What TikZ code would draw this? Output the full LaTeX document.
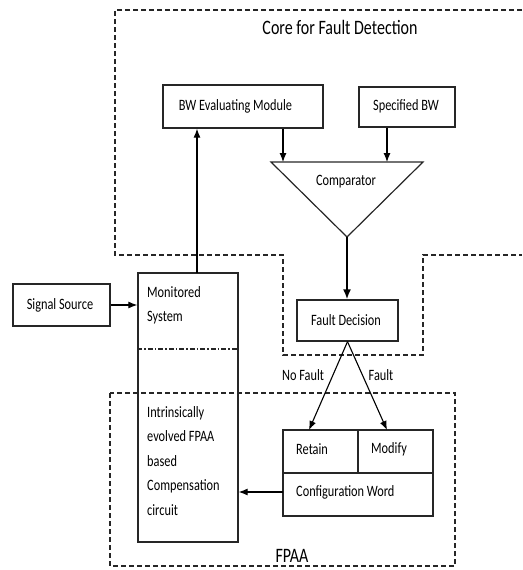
\documentclass[tikz,border=0pt]{standalone}
\usepackage{fontspec}
\setmainfont{Carlito}[FakeStretch=0.78]
\usetikzlibrary{arrows.meta}
\begin{document}
\begin{tikzpicture}[x=1pt,y=-1pt,
  box/.style={draw=black!85,line width=1.3pt,rectangle,inner sep=0pt},
  txt/.style={inner sep=0pt,font=\fontsize{15.8}{24.5}\selectfont},
  bigtxt/.style={inner sep=0pt,font=\fontsize{20.5}{22}\selectfont},
  region/.style={draw=black!85,line width=1.3pt,dash pattern=on 5pt off 3pt},
  conn/.style={draw=black,line width=1.1pt,-{Latex[length=9pt,width=7pt]}},
  thickconn/.style={draw=black,line width=1.8pt,-{Latex[length=10pt,width=8pt]}}]
\useasboundingbox (0,0) rectangle (522,570);
% regions
\draw[region] (522,10) -- (115,10) -- (115,255) -- (283,255) -- (283,355) -- (423,355) -- (423,255) -- (522,255);
\draw[region] (110,393) rectangle (455,566);
\node[bigtxt] (coretitle) at (340,27) {Core for Fault Detection};
\node[bigtxt] (fpaatitle) at (292,556) {FPAA};
% boxes
\node[box,minimum width=160pt,minimum height=43pt] (bwm) at (243,106.5) {};
\node[txt] (bwmt) at (235.5,106) {BW Evaluating Module};
\node[box,minimum width=96pt,minimum height=40pt] (sbw) at (407,107) {};
\node[txt] (sbwt) at (406,106) {Specified BW};
% comparator
\coordinate (cL) at (271,162);
\coordinate (cR) at (423,162);
\coordinate (cA) at (347,237);
\draw[draw=black!85,line width=1.2pt] (cL) -- (cR) -- (cA) -- cycle;
\node[txt] (cmpt) at (346,182) {Comparator};
\coordinate (in1) at (283,162);
\coordinate (in2) at (387,162);
\draw[conn] (bwm.south -| in1) -- (in1);
\draw[conn] (sbw.south -| in2) -- (in2);
% fault decision
\node[box,minimum width=101pt,minimum height=41pt] (fd) at (347.5,320.5) {};
\node[txt] (fdt) at (346,320) {Fault Decision};
\draw[thickconn] (cA) -- (cA |- fd.north);
% signal source
\node[box,minimum width=97pt,minimum height=42pt] (ss) at (61.5,305) {};
\node[txt] (sst) at (60,305) {Signal Source};
% monitored system
\node[box,minimum width=100pt,minimum height=269pt] (ms) at (188,407.5) {};
\draw[draw=black!85,line width=1.1pt,dash pattern=on 5pt off 2pt on 1.5pt off 2pt] (ms.west |- 0,349) -- (ms.east |- 0,349);
\node[txt,anchor=west,align=left] (mst) at (147,305.5) {Monitored\\System};
\node[txt,anchor=west,align=left] (compt) at (147,461) {Intrinsically\\evolved FPAA\\based\\Compensation\\circuit};
\draw[conn] (ss.east) -- (ss.east -| ms.west);
\coordinate (msup) at (197,273);
\draw[conn] (msup) -- (msup |- bwm.south);
% configuration word
\node[box,minimum width=150pt,minimum height=86pt] (cw) at (358,473) {};
\draw[draw=black!85,line width=1.3pt] (cw.west) -- (cw.east);
\draw[draw=black!85,line width=1.3pt] (cw.north) -- (cw.center);
\node[txt,anchor=west] (rett) at (296,449) {Retain};
\node[txt,anchor=west] (modt) at (371,449) {Modify};
\node[txt,anchor=west] (cwt) at (296,492) {Configuration Word};
\coordinate (ret) at (309,430);
\coordinate (mod) at (387,430);
\draw[conn] (fd.south) -- (ret);
\draw[conn] (fd.south) -- (mod);
\node[txt] (nof) at (303,375) {No Fault};
\node[txt] (fl) at (381,375) {Fault};
\coordinate (cwo) at (283,492);
\draw[conn] (cwo) -- (cwo -| ms.east);
\end{tikzpicture}
\end{document}
